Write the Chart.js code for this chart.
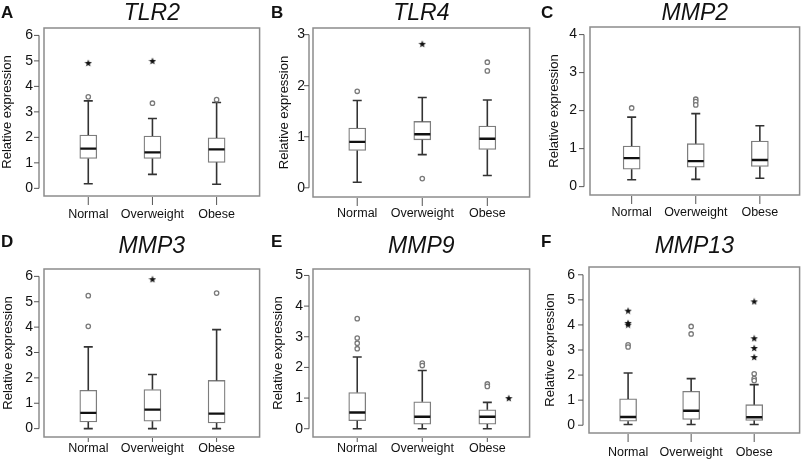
<!DOCTYPE html>
<html>
<head>
<meta charset="utf-8">
<script src="https://cdn.jsdelivr.net/npm/chart.js@4.4.1/dist/chart.umd.min.js"></script>
<style>
  body { margin: 0; background: #fff; }
  #wrap { position: relative; width: 810px; height: 461px; overflow: hidden; }
  #wrap canvas { position: absolute; }
</style>
</head>
<body>
<div id="wrap">
  <canvas id="cA" width="270" height="230" style="left:0px;top:0px"></canvas>
  <canvas id="cB" width="270" height="230" style="left:270px;top:0px"></canvas>
  <canvas id="cC" width="270" height="230" style="left:540px;top:0px"></canvas>
  <canvas id="cD" width="270" height="231" style="left:0px;top:230px"></canvas>
  <canvas id="cE" width="270" height="231" style="left:270px;top:230px"></canvas>
  <canvas id="cF" width="270" height="231" style="left:540px;top:230px"></canvas>
</div>
<script>
// Groups on the x axis
const groups = ['Normal', 'Overweight', 'Obese'];

// Boxes: [lower whisker, Q1, median, Q3, upper whisker] per group
// Outliers (circles) and extremes (stars): [x position, value]
const tlr2Box = [[0.18, 1.17, 1.56, 2.09, 3.43], [0.55, 1.17, 1.41, 2.05, 2.74], [0.16, 1.02, 1.53, 1.98, 3.37]];
const tlr2Out = [[1, 3.59], [2, 3.34], [3, 3.48]];
const tlr2Ext = [[1, 4.92], [2, 5.0]];

const tlr4Box = [[0.11, 0.73, 0.90, 1.17, 1.71], [0.65, 0.94, 1.05, 1.30, 1.77], [0.24, 0.75, 0.96, 1.21, 1.72]];
const tlr4Out = [[1, 1.89], [2, 0.18], [3, 2.46], [3, 2.29]];
const tlr4Ext = [[2, 2.82]];

const mmp2Box = [[0.18, 0.46, 0.75, 1.07, 1.83], [0.19, 0.51, 0.67, 1.13, 1.92], [0.22, 0.53, 0.70, 1.20, 1.60]];
const mmp2Out = [[1, 2.07], [2, 2.30], [2, 2.24], [2, 2.15]];
const mmp2Ext = [];

const mmp3Box = [[0, 0.26, 0.62, 1.51, 3.22], [0, 0.29, 0.75, 1.54, 2.13], [0, 0.22, 0.59, 1.90, 3.90]];
const mmp3Out = [[1, 5.24], [1, 4.03], [3, 5.34]];
const mmp3Ext = [[2, 5.89]];

const mmp9Box = [[0, 0.26, 0.53, 1.18, 2.34], [0, 0.15, 0.39, 0.88, 1.90], [0, 0.15, 0.39, 0.62, 0.86]];
const mmp9Out = [[1, 3.59], [1, 2.96], [1, 2.79], [1, 2.61], [2, 2.14], [2, 2.06], [3, 1.46], [3, 1.38]];
const mmp9Ext = [[3.33, 1.0]];

const mmp13Box = [[0.03, 0.16, 0.33, 1.05, 2.08], [0.03, 0.23, 0.58, 1.35, 1.86], [0.03, 0.19, 0.32, 0.82, 1.62]];
const mmp13Out = [[1, 3.21], [1, 3.12], [2, 3.94], [2, 3.64], [3, 2.05], [3, 1.86], [3, 1.78]];
const mmp13Ext = [[1, 4.57], [1, 4.08], [1, 4.01], [3, 4.94], [3, 3.47], [3, 3.08], [3, 2.72]];

// y tick labels per panel (0 .. top)
const tlr2Ticks = [0, 1, 2, 3, 4, 5, 6];
const tlr4Ticks = [0, 1, 2, 3];
const mmp2Ticks = [0, 1, 2, 3, 4];
const mmp3Ticks = [0, 1, 2, 3, 4, 5, 6];
const mmp9Ticks = [0, 1, 2, 3, 4, 5];
const mmp13Ticks = [0, 1, 2, 3, 4, 5, 6];

const FONT = '"Liberation Sans", Arial, sans-serif';

const panels = [
  { id: 'cA', letter: 'A', title: 'TLR2', box: tlr2Box, out: tlr2Out, ext: tlr2Ext, ticks: tlr2Ticks,
    yMin: -0.30, yMax: 6.29, xMin: 0.31, xMax: 3.67, yW: 44, padR: 6, padT: 28, xH: 34,
    yTitlePad: 0, tickPad: 11, gap: 5, xLabelPad: 11, xTick: 8, titleY: 14, letterY: 13 },
  { id: 'cB', letter: 'B', title: 'TLR4', box: tlr4Box, out: tlr4Out, ext: tlr4Ext, ticks: tlr4Ticks,
    yMin: -0.18, yMax: 3.13, xMin: 0.32, xMax: 3.65, yW: 43, padR: 6, padT: 28, xH: 33,
    yTitlePad: 7, tickPad: 8, gap: 4, xLabelPad: 9, xTick: 8, titleY: 14, letterY: 13 },
  { id: 'cC', letter: 'C', title: 'MMP2', box: mmp2Box, out: mmp2Out, ext: mmp2Ext, ticks: mmp2Ticks,
    yMin: -0.22, yMax: 4.20, xMin: 0.35, xMax: 3.62, yW: 50, padR: 3, padT: 27, xH: 35,
    yTitlePad: 7, tickPad: 13, gap: 6, xLabelPad: 10, xTick: 8, titleY: 14, letterY: 13 },
  { id: 'cD', letter: 'D', title: 'MMP3', box: mmp3Box, out: mmp3Out, ext: mmp3Ext, ticks: mmp3Ticks,
    yMin: -0.33, yMax: 6.29, xMin: 0.31, xMax: 3.67, yW: 44, padR: 6, padT: 39, xH: 24,
    yTitlePad: 0.5, tickPad: 11, gap: 5, xLabelPad: 4, xTick: 4, titleY: 17, letterY: 12 },
  { id: 'cE', letter: 'E', title: 'MMP9', box: mmp9Box, out: mmp9Out, ext: mmp9Ext, ticks: mmp9Ticks,
    yMin: -0.27, yMax: 5.21, xMin: 0.32, xMax: 3.65, yW: 43, padR: 6, padT: 39, xH: 24,
    yTitlePad: 0.5, tickPad: 10, gap: 4, xLabelPad: 4, xTick: 4, titleY: 17, letterY: 12 },
  { id: 'cF', letter: 'F', title: 'MMP13', box: mmp13Box, out: mmp13Out, ext: mmp13Ext, ticks: mmp13Ticks,
    yMin: -0.31, yMax: 6.31, xMin: 0.38, xMax: 3.72, yW: 49, padR: 3, padT: 37, xH: 28,
    yTitlePad: 2.5, tickPad: 14, gap: 6, xLabelPad: 12, xTick: 8, titleY: 17, letterY: 12 }
];

// small filled star used for extreme values
function starImage() {
  const c = document.createElement('canvas');
  c.width = 8; c.height = 8;
  const g = c.getContext('2d');
  g.fillStyle = '#111';
  g.beginPath();
  for (let i = 0; i < 10; i++) {
    const r = i % 2 ? 1.6 : 3.9;
    const a = -Math.PI / 2 + i * Math.PI / 5;
    g.lineTo(4 + r * Math.cos(a), 4.4 + r * Math.sin(a));
  }
  g.closePath();
  g.fill();
  return c;
}
const star = starImage();

// frame, R-style y axis, x tick marks, panel letter and title
const framePlugin = {
  id: 'rframe',
  beforeDatasetsDraw(chart, args, o) {
    const { ctx, chartArea: a, scales: { x, y } } = chart;
    ctx.save();
    ctx.strokeStyle = '#8c8c8c';
    ctx.lineWidth = 1.5;
    ctx.strokeRect(a.left, a.top, a.right - a.left, a.bottom - a.top);
    ctx.strokeStyle = '#555';
    ctx.lineWidth = 1;
    const ax = a.left - o.gap;
    const t = o.ticks;
    ctx.beginPath();
    ctx.moveTo(ax, y.getPixelForValue(t[0]));
    ctx.lineTo(ax, y.getPixelForValue(t[t.length - 1]));
    t.forEach(v => {
      const py = y.getPixelForValue(v);
      ctx.moveTo(ax - 5, py);
      ctx.lineTo(ax, py);
    });
    groups.forEach((g, i) => {
      const px = x.getPixelForValue(i + 1);
      ctx.moveTo(px, a.bottom + 1);
      ctx.lineTo(px, a.bottom + 1 + o.xTick);
    });
    ctx.stroke();
    ctx.restore();
  },
  afterDraw(chart, args, o) {
    const { ctx, chartArea: a } = chart;
    ctx.save();
    ctx.fillStyle = '#111';
    ctx.textBaseline = 'middle';
    ctx.textAlign = 'left';
    ctx.font = 'bold 17px ' + FONT;
    ctx.fillText(o.letter, 1, o.letterY);
    ctx.textAlign = 'center';
    ctx.font = 'italic 23px ' + FONT;
    ctx.fillText(o.title, (a.left + a.right) / 2, o.titleY);
    ctx.restore();
  }
};

function drawPanel(p) {
  const boxData = p.box.map((b, i) => ({ x: i + 1, y: [b[1], b[3]] }));
  const stemData = [];
  p.box.forEach((b, i) => {
    stemData.push({ x: i + 1, y: b[0] }, { x: i + 1, y: b[1] }, { x: i + 1, y: null });
    stemData.push({ x: i + 1, y: b[3] }, { x: i + 1, y: b[4] }, { x: i + 1, y: null });
  });
  const capData = [];
  p.box.forEach((b, i) => { capData.push({ x: i + 1, y: b[0] }, { x: i + 1, y: b[4] }); });
  const medData = p.box.map((b, i) => ({ x: i + 1, y: b[2] }));
  const outData = p.out.map(d => ({ x: d[0], y: d[1] }));
  const extData = p.ext.map(d => ({ x: d[0], y: d[1] }));

  new Chart(document.getElementById(p.id), {
    type: 'bar',
    data: {
      datasets: [
        { type: 'bar', data: boxData, backgroundColor: '#fff', borderColor: '#7d7d7d', borderWidth: 1.3,
          borderSkipped: false, barThickness: 17, order: 5 },
        { type: 'line', data: stemData, borderColor: '#333', borderWidth: 1.6, pointRadius: 0,
          spanGaps: false, fill: false, order: 4 },
        { type: 'scatter', data: capData, pointStyle: 'line', pointRadius: 4.5, borderColor: '#333',
          pointBorderWidth: 1.6, borderWidth: 1.6, order: 3 },
        { type: 'scatter', data: medData, pointStyle: 'line', pointRadius: 8, borderColor: '#111',
          pointBorderWidth: 2.4, borderWidth: 2.4, order: 1 },
        { type: 'scatter', data: outData, pointStyle: 'circle', pointRadius: 2.2, borderColor: '#7a7a7a',
          backgroundColor: '#fff', pointBorderWidth: 1.3, borderWidth: 1.3, order: 0 },
        { type: 'scatter', data: extData, pointStyle: star, pointRadius: 4, order: 0 }
      ]
    },
    options: {
      responsive: false,
      animation: false,
      layout: { padding: { top: p.padT, right: p.padR, left: 0, bottom: 0 } },
      plugins: {
        legend: { display: false },
        tooltip: { enabled: false },
        rframe: { letter: p.letter, title: p.title, ticks: p.ticks, gap: p.gap, xTick: p.xTick,
                  titleY: p.titleY, letterY: p.letterY }
      },
      scales: {
        x: {
          type: 'linear', min: p.xMin, max: p.xMax, offset: false,
          grid: { display: false, drawTicks: false }, border: { display: false },
          afterBuildTicks: s => { s.ticks = groups.map((g, i) => ({ value: i + 1 })); },
          afterFit: s => { s.height = p.xH; },
          ticks: { autoSkip: false, maxRotation: 0, padding: p.xLabelPad, color: '#111',
                   font: { family: FONT, size: 12.5 }, callback: v => groups[v - 1] || '' }
        },
        y: {
          min: p.yMin, max: p.yMax,
          grid: { display: false, drawTicks: false }, border: { display: false },
          afterBuildTicks: s => { s.ticks = p.ticks.map(v => ({ value: v })); },
          afterFit: s => { s.width = p.yW; },
          ticks: { padding: p.tickPad, color: '#111', font: { family: FONT, size: 14 } },
          title: { display: true, text: 'Relative expression', color: '#111',
                   font: { family: FONT, size: 13 }, padding: { top: p.yTitlePad, bottom: 0 } }
        }
      }
    },
    plugins: [framePlugin]
  });
}

panels.forEach(drawPanel);
</script>
</body>
</html>
